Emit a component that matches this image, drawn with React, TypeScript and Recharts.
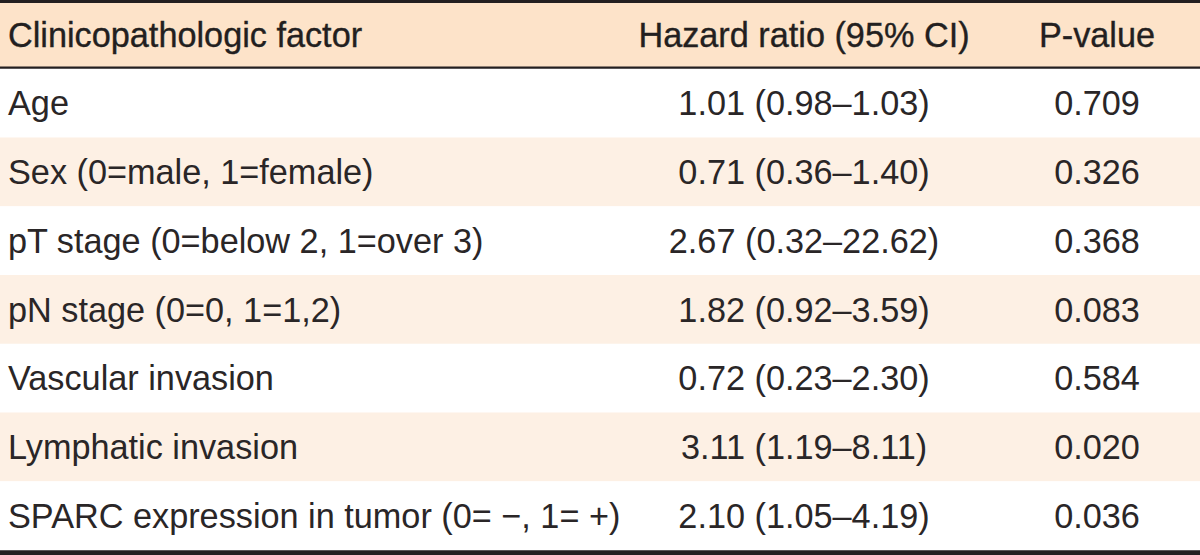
import { BarChart, Bar, XAxis, YAxis } from "recharts";

const columnTitles = ["Clinicopathologic factor", "Hazard ratio (95% CI)", "P-value"];

const factors = [
  "Age",
  "Sex (0=male, 1=female)",
  "pT stage (0=below 2, 1=over 3)",
  "pN stage (0=0, 1=1,2)",
  "Vascular invasion",
  "Lymphatic invasion",
  "SPARC expression in tumor (0= \u2212, 1= +)",
];

const hazardRatios = [
  "1.01 (0.98\u20131.03)",
  "0.71 (0.36\u20131.40)",
  "2.67 (0.32\u201322.62)",
  "1.82 (0.92\u20133.59)",
  "0.72 (0.23\u20132.30)",
  "3.11 (1.19\u20138.11)",
  "2.10 (1.05\u20134.19)",
];

const pValues = ["0.709", "0.326", "0.368", "0.083", "0.584", "0.020", "0.036"];

// header goes in as the first band so every row comes off the same category scale
const rows = [
  { factor: columnTitles[0], hr: columnTitles[1], p: columnTitles[2] },
  ...factors.map((f, i) => ({ factor: f, hr: hazardRatios[i], p: pValues[i] })),
];

const INK = "#231f20";
const HEADER_BG = "#fde3c9";
const STRIPE_BG = "#fdf0e4";
const FONT = '"Liberation Sans", Arial, sans-serif';
const SQUEEZE = 0.965; // the original face is a condensed one

function RowShape(props: any) {
  const { x, y, width, height, payload, index } = props;
  const isHeader = index === 0;
  const isLast = index === rows.length - 1;
  const fill = isHeader ? HEADER_BG : index % 2 === 0 ? STRIPE_BG : "#ffffff";
  const baseline = y + height / 2 + 12;
  const textProps = {
    fill: isHeader ? INK : "#2a2627",
    fontFamily: FONT,
    fontSize: 35.5,
    stroke: isHeader ? INK : "none",
    strokeWidth: isHeader ? 0.35 : 0,
  };
  const put = (tx: number, anchor: "start" | "middle", label: string) => (
    <text
      transform={`translate(${tx},${baseline}) scale(${SQUEEZE},1)`}
      textAnchor={anchor}
      {...textProps}
    >
      {label}
    </text>
  );
  return (
    <g>
      <rect x={x} y={y} width={width} height={height} fill={fill} />
      {isHeader && <rect x={x} y={y} width={width} height={3} fill={INK} />}
      {isHeader && <rect x={x} y={y + height - 2.5} width={width} height={3} fill={INK} />}
      {isLast && <rect x={x} y={y + height} width={width} height={5} fill={INK} />}
      {put(x + 8, "start", payload.factor)}
      {put(x + 804, "middle", payload.hr)}
      {put(x + 1097, "middle", payload.p)}
    </g>
  );
}

export default function App() {
  return (
    <div style={{ width: 1200, height: 555, background: "#ffffff" }}>
      <style>{"body{margin:0}"}</style>
      <BarChart
        width={1200}
        height={555}
        data={rows}
        layout="vertical"
        margin={{ top: 0, right: 0, bottom: 5, left: 0 }}
        barCategoryGap={0}
        barGap={0}
      >
        <XAxis type="number" domain={[0, 1]} hide />
        <YAxis type="category" dataKey="factor" hide />
        <Bar dataKey={() => 1} shape={RowShape} isAnimationActive={false} />
      </BarChart>
    </div>
  );
}
